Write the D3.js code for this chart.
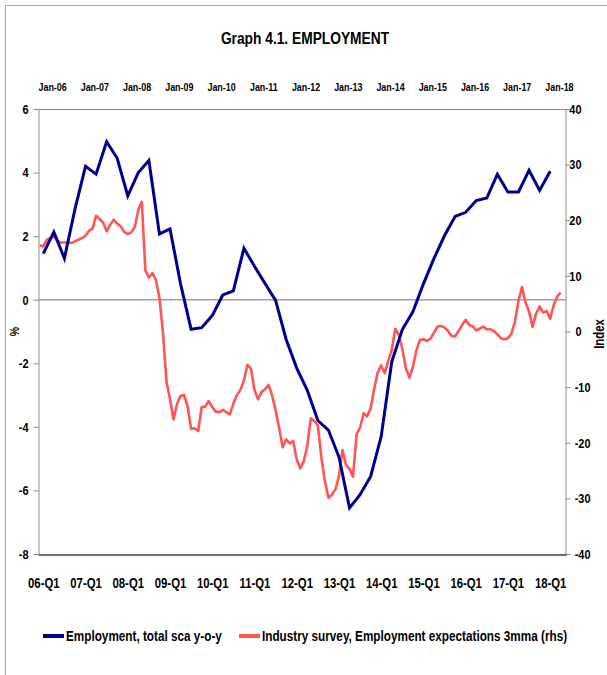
<!DOCTYPE html>
<html>
<head>
<meta charset="utf-8">
<script src="https://cdn.jsdelivr.net/npm/d3@7"></script>
<style>
  body { margin: 0; background: #fff; }
  svg { display: block; font-family: "Liberation Sans Narrow", "Arial Narrow", "Liberation Sans", sans-serif; font-weight: bold; }
</style>
</head>
<body>
<svg></svg>
<script>
// bottom axis (quarters) and top axis (months) labels
const quarterLabels = ["06-Q1", "07-Q1", "08-Q1", "09-Q1", "10-Q1", "11-Q1", "12-Q1",
    "13-Q1", "14-Q1", "15-Q1", "16-Q1", "17-Q1", "18-Q1"]
const monthLabels = ["Jan-06", "Jan-07", "Jan-08", "Jan-09", "Jan-10", "Jan-11", "Jan-12",
    "Jan-13", "Jan-14", "Jan-15", "Jan-16", "Jan-17", "Jan-18"]
const leftTicks = [-8, -6, -4, -2, 0, 2, 4, 6]
const rightTicks = [-40, -30, -20, -10, 0, 10, 20, 30, 40]

// Employment, total sca y-o-y (%), quarterly 06-Q1 .. 18-Q1
const employment = [
    1.45, 2.13, 1.3, 2.85, 4.2, 3.95, 4.97, 4.45, 3.27, 4.0,
    4.38, 2.07, 2.23, 0.5, -0.93, -0.88, -0.5, 0.15, 0.28, 1.62,
    1.05, 0.51, -0.02, -1.25, -2.15, -2.85, -3.8, -4.1, -4.95, -6.55,
    -6.13, -5.56, -4.3, -1.95, -0.94, -0.38, 0.5, 1.3, 2.02, 2.62,
    2.75, 3.12, 3.2, 3.95, 3.39, 3.39, 4.07, 3.44, 4.04
]

// Industry survey, employment expectations 3mma (index, rhs), monthly
const expectations = [
    15.5, 15.3, 16.5, 16.8, 17.1, 16.3, 16.0, 16.0, 16.0, 15.9,
    16.2, 16.5, 16.8, 17.2, 18.1, 18.5, 20.8, 20.2, 19.6, 18.0,
    19.2, 20.1, 19.4, 18.9, 17.9, 17.5, 17.8, 18.8, 21.9, 23.3,
    11.0, 9.7, 10.5, 9.3, 6.0, -0.2, -9.0, -12.2, -15.8, -13.0,
    -11.6, -11.4, -13.5, -17.5, -17.4, -17.9, -13.6, -13.5, -12.5, -13.6,
    -14.4, -14.5, -14.1, -14.5, -14.9, -13.0, -11.4, -10.5, -8.8, -6.0,
    -6.7, -10.5, -12.2, -10.9, -10.4, -9.6, -11.5, -14.2, -17.3, -20.8,
    -19.4, -20.1, -19.7, -23.0, -24.6, -23.3, -20.6, -15.6, -16.1, -16.9,
    -22.6, -26.9, -29.9, -29.3, -28.4, -26.0, -21.3, -24.0, -24.7, -26.1,
    -18.5, -17.3, -14.7, -15.3, -13.8, -10.3, -7.4, -6.1, -7.5, -5.3,
    -3.3, 0.5, -0.6, -3.1, -6.6, -8.3, -6.4, -3.4, -1.5, -1.4,
    -1.7, -1.3, -0.2, 0.9, 1.0, 0.7, 0.1, -0.8, -0.9, 0.1,
    1.2, 2.1, 1.2, 0.9, 0.2, 0.5, 0.9, 0.4, 0.4, 0.1,
    -0.5, -1.2, -1.4, -1.2, -0.4, 1.8, 5.5, 8.0, 5.2, 3.6,
    0.8, 3.2, 4.5, 3.4, 3.7, 2.3, 4.7, 6.3, 7.0
]

const seriesNames = ["Employment, total sca y-o-y", "Industry survey, Employment expectations 3mma (rhs)"]
const seriesColors = ["#000090", "#ff5555"]

const width = 607
const height = 675
const plot = { left: 38, right: 566, top: 109, bottom: 554 }
// the original uses a condensed font; squeeze the fallback font to match
const squeeze = 0.81

const svg = d3.select('svg')
    .attr("width", width)
    .attr("height", height)

render(svg)
condense(svg)

function render(selection) {
    // outer chart border (only top and left visible in the crop)
    selection.append("path")
        .attr("d", `M5.5,${height} V5.5 H${width}`)
        .attr("fill", "none")
        .attr("stroke", "#a6a6a6")

    selection.append("text")
        .attr("x", 305).attr("y", 44)
        .attr("text-anchor", "middle")
        .attr("font-size", 17)
        .text("Graph 4.1. EMPLOYMENT")

    // scales
    const xQ = d3.scaleLinear().domain([0, 50]).range([plot.left, plot.right])
    const xM = d3.scaleLinear().domain([0, 150]).range([plot.left, plot.right])
    const yL = d3.scaleLinear().domain([-8, 6]).range([plot.bottom, plot.top])
    const yR = d3.scaleLinear().domain([-40, 40]).range([plot.bottom, plot.top])

    // top frame line
    selection.append("line")
        .attr("x1", plot.left).attr("x2", plot.right)
        .attr("y1", plot.top + 0.5).attr("y2", plot.top + 0.5)
        .attr("stroke", "#8c8c8c")

    // left axis
    const gL = selection.append("g")
        .attr("transform", `translate(${plot.left + 0.5},0)`)
        .call(d3.axisLeft(yL).tickValues(leftTicks).tickFormat(d => String(d))
            .tickSize(5).tickPadding(5).tickSizeOuter(0))
    styleAxis(gL, 13.5)

    // right axis
    const gR = selection.append("g")
        .attr("transform", `translate(${plot.right - 0.5},0)`)
        .call(d3.axisRight(yR).tickValues(rightTicks).tickFormat(d => String(d))
            .tickSize(5).tickSizeOuter(0))
    styleAxis(gR, 13.5)
    gR.selectAll(".tick text")
        .attr("text-anchor", "end")
        .attr("x", d => d < 0 ? 25 : 16)

    // bottom axis
    const gB = selection.append("g")
        .attr("transform", `translate(0,${plot.bottom + 0.5})`)
        .call(d3.axisBottom(xQ)
            .tickValues(d3.range(0, 49, 4).map(i => i + 0.5))
            .tickFormat((d, k) => quarterLabels[k])
            .tickSize(0).tickPadding(24))
    styleAxis(gB, 14)
    gB.select(".domain").attr("stroke", "#404040").attr("stroke-width", 1.5)

    // top axis (months)
    const gT = selection.append("g")
        .attr("transform", `translate(0,${plot.top})`)
        .call(d3.axisTop(xM)
            .tickValues(d3.range(4, 149, 12))
            .tickFormat((d, k) => monthLabels[k])
            .tickSize(0).tickPadding(18))
    styleAxis(gT, 11)
    gT.select(".domain").remove()

    // zero line
    selection.append("line")
        .attr("x1", plot.left).attr("x2", plot.right)
        .attr("y1", yL(0)).attr("y2", yL(0))
        .attr("stroke", "#a0a0a0")
        .attr("stroke-width", 1.5)

    // axis titles
    selection.append("text")
        .attr("transform", `translate(19,${yL(-1)}) rotate(-90)`)
        .attr("text-anchor", "middle")
        .attr("font-size", 13)
        .text("%")
    selection.append("text")
        .attr("transform", `translate(604,334) rotate(-90)`)
        .attr("text-anchor", "middle")
        .attr("font-size", 14)
        .text("Index")

    // lines
    const redLine = d3.line()
        .x((d, i) => xM(i + 0.5))
        .y(d => yR(d))
    selection.append("path")
        .datum(expectations)
        .attr("d", redLine)
        .attr("fill", "none")
        .attr("stroke", seriesColors[1])
        .attr("stroke-width", 2.6)
        .attr("stroke-linejoin", "round")

    const blueLine = d3.line()
        .x((d, i) => xQ(i + 0.5))
        .y(d => yL(d))
    selection.append("path")
        .datum(employment)
        .attr("d", blueLine)
        .attr("fill", "none")
        .attr("stroke", seriesColors[0])
        .attr("stroke-width", 3)
        .attr("stroke-linejoin", "miter")

    // legend
    const legendX = [43, 239]
    const legend = selection.selectAll(".legend")
        .data(seriesNames)
        .enter().append("g")
        .attr("class", "legend")
        .attr("transform", (d, i) => `translate(${legendX[i]},636)`)
    legend.append("line")
        .attr("x1", 0).attr("x2", 21)
        .attr("stroke", (d, i) => seriesColors[i])
        .attr("stroke-width", 4)
    legend.append("text")
        .attr("x", 23).attr("dy", "0.35em")
        .attr("font-size", 14.5)
        .text(d => d)
}

function styleAxis(g, size) {
    g.attr("font-family", null).attr("font-size", size)
    g.select(".domain").attr("stroke", "#8c8c8c")
    g.selectAll(".tick line").attr("stroke", "#8c8c8c")
    g.selectAll(".tick text").attr("fill", "#000")
}

// horizontal squeeze around each text's anchor point
function condense(selection) {
    selection.selectAll("text").each(function () {
        const x = +this.getAttribute("x") || 0
        const t = this.getAttribute("transform") || ""
        d3.select(this)
            .attr("transform", `${t} translate(${x * (1 - squeeze)},0) scale(${squeeze},1)`)
    })
}
</script>
</body>
</html>
